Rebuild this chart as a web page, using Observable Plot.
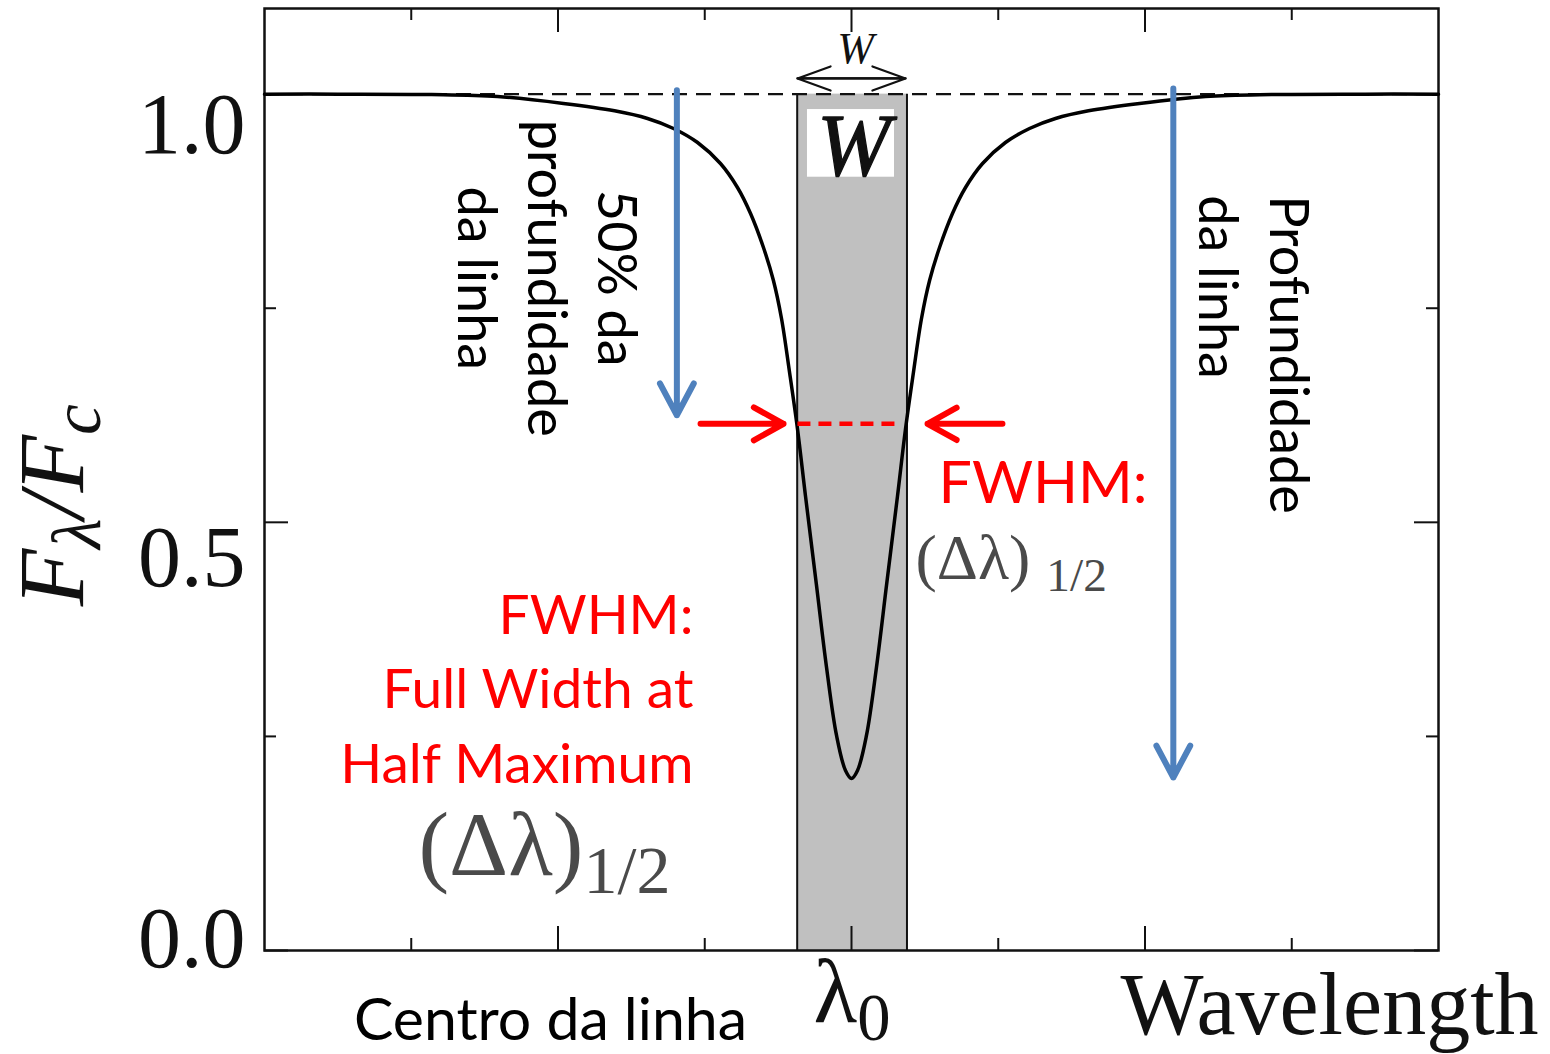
<!DOCTYPE html>
<html>
<head>
<meta charset="utf-8">
<script src="https://cdn.jsdelivr.net/npm/d3@7"></script>
<script src="https://cdn.jsdelivr.net/npm/@observablehq/plot@0.6"></script>
<style>
  html, body { margin: 0; padding: 0; background: #fff; }
  #chart svg { display: block; }
</style>
</head>
<body>
<div id="chart"></div>
<script>
// ---------------- data ----------------
// Normalised line profile F_lambda / F_c versus wavelength offset from the line centre
const profileX = [-4.0, -3.5, -2.862, -2.412, -1.963, -1.615, -1.390, -1.213, -1.049, -0.893, -0.777, -0.688, -0.600, -0.532, -0.477, -0.422, -0.368, -0.313, -0.239, -0.170, -0.102, -0.041, 0.0, 0.041, 0.102, 0.170, 0.239, 0.313, 0.368, 0.422, 0.477, 0.532, 0.600, 0.688, 0.777, 0.893, 1.049, 1.213, 1.390, 1.615, 1.963, 2.412, 2.862, 3.5, 4.0];
const profileF = [1.0, 1.0, 0.9995, 0.9972, 0.9891, 0.9805, 0.9716, 0.9599, 0.9435, 0.9190, 0.8910, 0.8606, 0.8209, 0.7824, 0.7380, 0.6750, 0.6090, 0.5300, 0.4270, 0.3305, 0.2511, 0.2102, 0.2008, 0.2102, 0.2511, 0.3305, 0.4270, 0.5300, 0.6090, 0.6750, 0.7380, 0.7824, 0.8209, 0.8606, 0.8910, 0.9190, 0.9435, 0.9599, 0.9716, 0.9805, 0.9891, 0.9972, 0.9995, 1.0, 1.0];
const continuum = 1.0;
const equivWidth = [-0.37, 0.378];      // equivalent-width rectangle W
const fwhmLevel = 0.615;                // half-maximum level
const fwhmX = [-0.365, 0.32];           // red dashed FWHM segment
const xMajorTicks = [-2, 0, 2];
const xMinorTicks = [-3, -1, 1, 3];
const yMajorTicks = [0, 0.5, 1.0];
const yMinorTicks = [0.25, 0.75];
const yTickLabels = ["0.0", "0.5", "1.0"];

// ---------------- annotation layout (data coordinates) ----------------
const yTickLabelBase = [-0.019, 0.426, 0.931];
const blueArrows = [
  {x1: -1.19, y1: 1.0045, x2: -1.19, y2: 0.625},
  {x1: 2.193, y1: 1.0066, x2: 2.193, y2: 0.202}
];
// tails drawn 25px further back and inset by the same amount (keeps full-size heads)
const redArrows = [
  {x1: -1.199, y1: fwhmLevel, x2: -0.463, y2: fwhmLevel},
  {x1: 1.199, y1: fwhmLevel, x2: 0.518, y2: fwhmLevel}
];
const wArrowY = 1.0183;
const wArrows = [
  {x1: -0.368, x2: 0.368},
  {x1: 0.368, x2: -0.368}
];
const wBox = {x1: -0.30, x2: 0.293, y1: 0.903, y2: 0.982};

const profile = profileX.map((x, i) => ({x, f: profileF[i]}));

const frameW = 1550 - 264 - 112;
const frameH = 1054 - 8 - 104;
const ink = "#111";
const sans = "Lato, 'Open Sans', sans-serif";
const serif = "'Liberation Serif', 'DejaVu Serif', serif";

const plot = Plot.plot({
  width: 1550,
  height: 1054,
  marginLeft: 264,
  marginRight: 112,
  marginTop: 8,
  marginBottom: 104,
  x: {domain: [-4, 4], axis: null},
  y: {domain: [0, 1.1], axis: null},
  style: {background: "white", overflow: "visible"},
  marks: [
    // equivalent width band
    Plot.rect([equivWidth], {x1: d => d[0], x2: d => d[1], y1: 0, y2: continuum, fill: "#c0c0c0"}),
    Plot.ruleX(equivWidth, {x: d => d, y1: 0, y2: continuum, stroke: ink, strokeWidth: 2}),
    // continuum level
    Plot.ruleY([continuum], {y: d => d, stroke: ink, strokeWidth: 2.2, strokeDasharray: "15,9"}),
    // inward ticks
    Plot.ruleX(xMajorTicks, {x: d => d, insetTop: frameH - 24, stroke: ink, strokeWidth: 2}),
    Plot.ruleX(xMajorTicks, {x: d => d, insetBottom: frameH - 24, stroke: ink, strokeWidth: 2}),
    Plot.ruleX(xMinorTicks, {x: d => d, insetTop: frameH - 12, stroke: ink, strokeWidth: 2}),
    Plot.ruleX(xMinorTicks, {x: d => d, insetBottom: frameH - 12, stroke: ink, strokeWidth: 2}),
    Plot.ruleY(yMajorTicks, {y: d => d, insetRight: frameW - 24, stroke: ink, strokeWidth: 2}),
    Plot.ruleY(yMajorTicks, {y: d => d, insetLeft: frameW - 24, stroke: ink, strokeWidth: 2}),
    Plot.ruleY(yMinorTicks, {y: d => d, insetRight: frameW - 12, stroke: ink, strokeWidth: 2}),
    Plot.ruleY(yMinorTicks, {y: d => d, insetLeft: frameW - 12, stroke: ink, strokeWidth: 2}),
    Plot.frame({stroke: ink, strokeWidth: 2.5}),
    // the line profile
    Plot.line(profile, {x: "x", y: "f", curve: "catmull-rom", stroke: "black", strokeWidth: 3.5}),
    // FWHM
    Plot.ruleY([fwhmLevel], {y: d => d, x1: fwhmX[0], x2: fwhmX[1], stroke: "#ff0000", strokeWidth: 4.5, strokeDasharray: "13,8"}),
    Plot.arrow(redArrows, {x1: "x1", y1: "y1", x2: "x2", y2: "y2", insetStart: 25, stroke: "#ff0000", strokeWidth: 6, headLength: 8.5, headAngle: 58}),
    // depth arrows
    Plot.arrow(blueArrows, {x1: "x1", y1: "y1", x2: "x2", y2: "y2", stroke: "#4f81bd", strokeWidth: 6, headLength: 9, headAngle: 56}),
    // W double arrow
    Plot.arrow(wArrows, {x1: "x1", x2: "x2", y1: wArrowY, y2: wArrowY, stroke: ink, strokeWidth: 2.2, headLength: 24, headAngle: 40}),
    Plot.text(["W"], {x: 0.027, y: 1.0358, text: d => d, fontFamily: serif, fontStyle: "italic", fontSize: 44, textAnchor: "middle", lineAnchor: "bottom", fill: ink}),
    // white box with W
    Plot.rect([wBox], {x1: "x1", x2: "x2", y1: "y1", y2: "y2", fill: "white"}),
    Plot.text(["W"], {x: 0.014, y: 0.905, text: d => d, fontFamily: serif, fontStyle: "italic", fontSize: 88, textAnchor: "middle", lineAnchor: "bottom", fill: ink, stroke: ink, strokeWidth: 1.3}),
    // y tick labels
    Plot.text(yTickLabels, {x: -4.129, y: (d, i) => yTickLabelBase[i], text: d => d, fontFamily: serif, fontSize: 86, textAnchor: "end", lineAnchor: "bottom", fill: ink}),
    // y axis label
    Plot.text(["F_{λ}/F_{c}"], {x: -5.24, y: 0.52, text: d => d, rotate: -90, fontFamily: serif, fontStyle: "italic", fontSize: 94, textAnchor: "middle", lineAnchor: "bottom", fill: ink}),
    // bottom labels
    Plot.text(["Centro da linha"], {x: -2.051, y: -0.105, text: d => d, fontFamily: sans, fontSize: 59, textAnchor: "middle", lineAnchor: "bottom", fill: "black"}),
    Plot.text(["λ_{0}"], {x: -0.259, y: -0.084, text: d => d, fontFamily: serif, fontSize: 90, textAnchor: "start", lineAnchor: "bottom", fill: ink}),
    Plot.text(["Wavelength"], {x: 1.833, y: -0.098, text: d => d, fontFamily: serif, fontSize: 88, textAnchor: "start", lineAnchor: "bottom", fill: ink}),
    // rotated annotations
    Plot.text(["50% da\nprofundidade\nda linha"], {x: -2.052, y: 0.785, text: d => d, rotate: 90, fontFamily: sans, fontSize: 54, lineHeight: 1.30, textAnchor: "middle", lineAnchor: "middle", fill: "black"}),
    Plot.text(["Profundidade\nda linha"], {x: 2.767, y: 0.882, text: d => d, rotate: 90, fontFamily: sans, fontSize: 54, lineHeight: 1.32, textAnchor: "start", lineAnchor: "middle", fill: "black"}),
    // FWHM texts
    Plot.text(["FWHM:\nFull Width at\nHalf Maximum"], {x: -1.077, y: 0.196, text: d => d, fontFamily: sans, fontSize: 55, lineHeight: 1.355, textAnchor: "end", lineAnchor: "bottom", fill: "#ff0000"}),
    Plot.text(["(Δλ)_{1/2}"], {x: -2.951, y: 0.0876, text: d => d, fontFamily: serif, fontSize: 92, textAnchor: "start", lineAnchor: "bottom", fill: "#4a4a4a"}),
    Plot.text(["FWHM:"], {x: 0.593, y: 0.523, text: d => d, fontFamily: sans, fontSize: 59, textAnchor: "start", lineAnchor: "bottom", fill: "#ff0000"}),
    Plot.text(["(Δλ) _{1/2}"], {x: 0.436, y: 0.434, text: d => d, fontFamily: serif, fontSize: 64, textAnchor: "start", lineAnchor: "bottom", fill: "#4a4a4a"})
  ]
});

document.getElementById("chart").appendChild(plot);

// turn "_{...}" into subscript tspans
const NS = "http://www.w3.org/2000/svg";
plot.querySelectorAll("text").forEach(t => {
  const s = t.textContent;
  if (!s.includes("_{")) return;
  const fs = parseFloat(getComputedStyle(t).fontSize);
  const parts = [];
  const re = /_\{([^}]*)\}/g;
  let last = 0, m;
  while ((m = re.exec(s))) {
    if (m.index > last) parts.push([s.slice(last, m.index), false]);
    parts.push([m[1], true]);
    last = re.lastIndex;
  }
  if (last < s.length) parts.push([s.slice(last), false]);
  t.textContent = "";
  t.setAttribute("xml:space", "preserve");
  t.style.whiteSpace = "pre";
  let cur = 0;
  for (const [txt, sub] of parts) {
    const ts = document.createElementNS(NS, "tspan");
    const target = sub ? fs * 0.19 : 0;
    if (target !== cur) ts.setAttribute("dy", target - cur);
    cur = target;
    if (sub) ts.setAttribute("font-size", fs * 0.74);
    ts.textContent = txt;
    t.appendChild(ts);
  }
});
</script>
</body>
</html>
